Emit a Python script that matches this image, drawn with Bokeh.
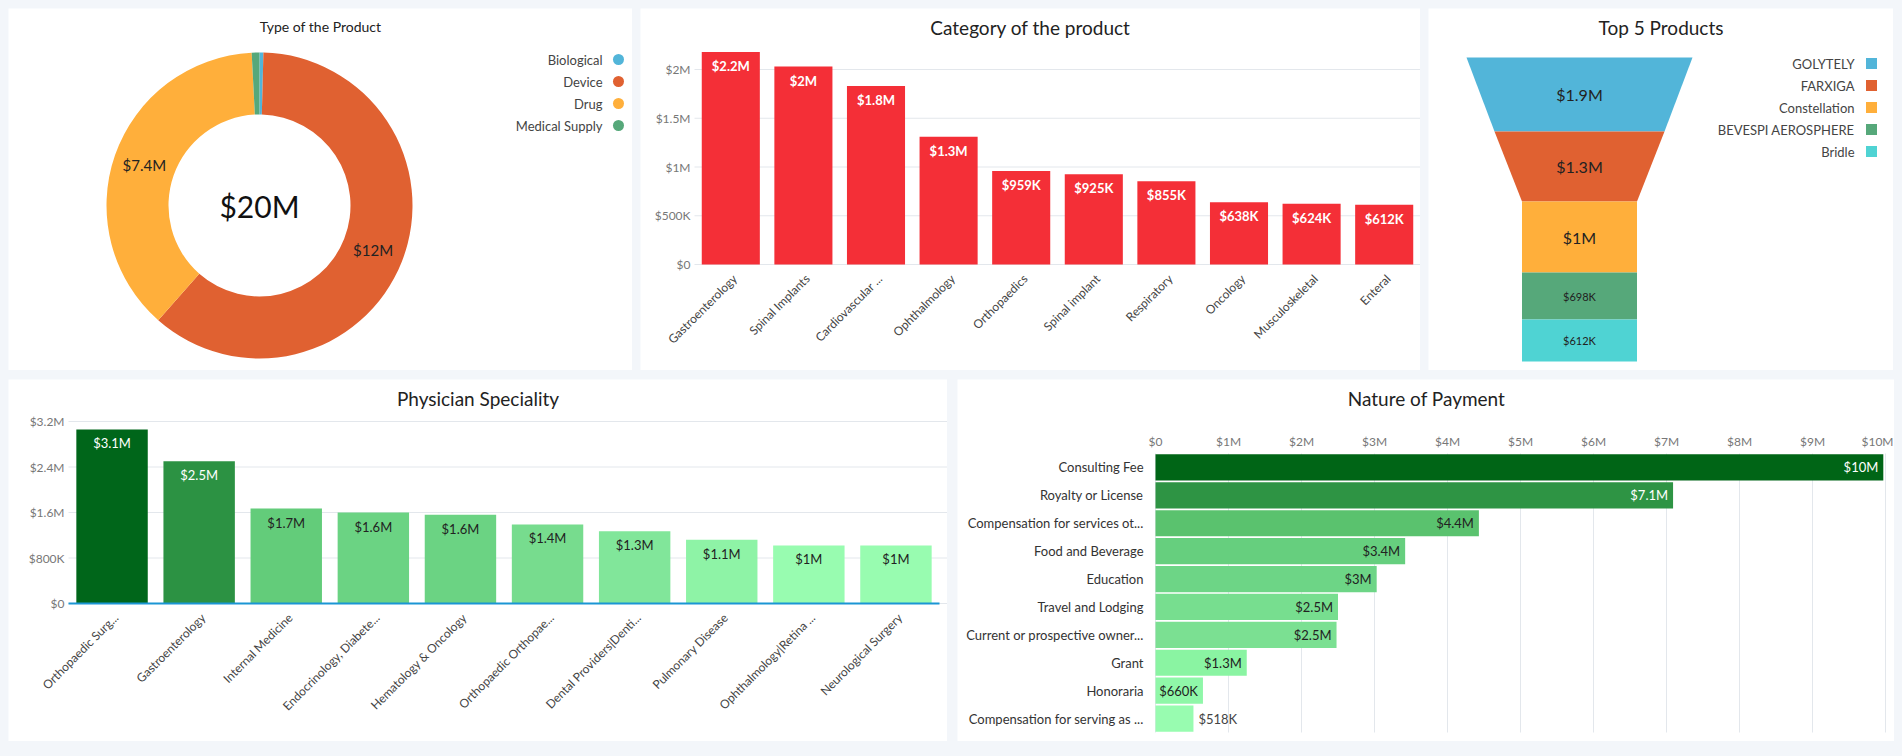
import math
from bokeh.plotting import figure
from bokeh.layouts import row, column
from bokeh.core.properties import value
from bokeh.embed import file_html
from bokeh.resources import INLINE

FONT = "Lato"
BG = "#f3f6fa"
GRID = "#e3e7ec"

# ---- data ----
type_names = ["Biological", "Device", "Drug", "Medical Supply"]
type_values = [0.08, 12.0, 7.4, 0.16]
type_labels = ["", "$12M", "$7.4M", ""]
type_colors = ["#52b5d9", "#e06131", "#ffaf3b", "#56a87a"]

cat_names = ["Gastroenterology", "Spinal Implants", "Cardiovascular ...", "Ophthalmology",
             "Orthopaedics", "Spinal implant", "Respiratory", "Oncology", "Musculoskeletal", "Enteral"]
cat_values = [2.18, 2.03, 1.83, 1.31, 0.959, 0.925, 0.855, 0.638, 0.624, 0.612]
cat_labels = ["$2.2M", "$2M", "$1.8M", "$1.3M", "$959K", "$925K", "$855K", "$638K", "$624K", "$612K"]
cat_ticks = [0, 0.5, 1, 1.5, 2]
cat_tick_labels = ["$0", "$500K", "$1M", "$1.5M", "$2M"]

top_names = ["GOLYTELY", "FARXIGA", "Constellation", "BEVESPI AEROSPHERE", "Bridle"]
top_labels = ["$1.9M", "$1.3M", "$1M", "$698K", "$612K"]
top_colors = ["#52b5d9", "#e06131", "#ffaf3b", "#56a87a", "#4fd3d3"]

spec_names = ["Orthopaedic Surg...", "Gastroenterology", "Internal Medicine", "Endocrinology, Diabete...",
              "Hematology & Oncology", "Orthopaedic Orthopae...", "Dental Providers|Denti...",
              "Pulmonary Disease", "Ophthalmology|Retina ...", "Neurological Surgery"]
spec_values = [3.06, 2.50, 1.67, 1.60, 1.56, 1.39, 1.27, 1.12, 1.02, 1.02]
spec_labels = ["$3.1M", "$2.5M", "$1.7M", "$1.6M", "$1.6M", "$1.4M", "$1.3M", "$1.1M", "$1M", "$1M"]
spec_colors = ["#00661a", "#2c9243", "#63cc7a", "#6bd383", "#6bd383", "#77dc8e",
               "#81e69a", "#8ef3a6", "#98fcb0", "#98fcb0"]
spec_ticks = [0, 0.8, 1.6, 2.4, 3.2]
spec_tick_labels = ["$0", "$800K", "$1.6M", "$2.4M", "$3.2M"]

pay_names = ["Consulting Fee", "Royalty or License", "Compensation for services ot...", "Food and Beverage",
             "Education", "Travel and Lodging", "Current or prospective owner...", "Grant", "Honoraria",
             "Compensation for serving as ..."]
pay_values = [9.97, 7.09, 4.43, 3.42, 3.03, 2.50, 2.48, 1.25, 0.65, 0.52]
pay_labels = ["$10M", "$7.1M", "$4.4M", "$3.4M", "$3M", "$2.5M", "$2.5M", "$1.3M", "$660K", "$518K"]
pay_colors = ["#006516", "#2e9444", "#5ac26e", "#66cf7e", "#6dd586", "#77de8f",
              "#7be092", "#8af4a2", "#8ff7a8", "#98fcb0"]
pay_ticks = list(range(11))
pay_tick_labels = ["$0"] + ["$%dM" % i for i in range(1, 11)]


def canvas(w, h, xr, yr):
    p = figure(width=w, height=h, x_range=xr, y_range=yr, output_backend="svg",
               toolbar_location=None, min_border=0)
    p.axis.visible = False
    p.grid.visible = False
    p.outline_line_color = None
    return p


def txt(p, x, y, t, size, color="#222", **kw):
    p.text(x=x, y=y, text=t, text_font=value(FONT), text_font_size=size, text_color=color, **kw)


def vbar_panel(w, h, names, vals, labels, colors, lab_colors, ticks, tick_labels,
               left, right, top_px, zero_px, title, bar_w, lab_style="normal"):
    n = len(names)
    k = (zero_px - top_px) / ticks[-1]
    P = (w - left - right) / n
    xr = (-0.5 - left / P, n - 0.5 + right / P)
    p = canvas(w, h, xr, (-(h - zero_px) / k, zero_px / k))
    p.segment(x0=-0.5, x1=n - 0.5 + right / P, y0=ticks, y1=ticks, line_color=GRID, line_width=1)
    idx = list(range(n))
    p.vbar(x=idx, top=vals, width=bar_w, color=colors, line_color=None)
    txt(p, idx, vals, labels, "13px", lab_colors, text_align="center", text_baseline="top",
        y_offset=6, text_font_style=lab_style)
    txt(p, [-0.5] * len(ticks), ticks, tick_labels, "12px", "#777", text_align="right",
        text_baseline="middle", x_offset=-4)
    txt(p, idx, [0] * n, names, "12px", "#444", text_align="right", text_baseline="middle",
        angle=math.pi / 4, y_offset=12, x_offset=4)
    txt(p, [(xr[0] + xr[1]) / 2], [(zero_px - 19) / k], [title], "19px", text_align="center",
        text_baseline="middle")
    return p


# ---- panel 1: donut ----
W1, H1 = 624, 362
p1 = canvas(W1, H1, (0, W1), (0, H1))
cx, cy = 251, H1 - 197
total = sum(type_values)
starts, ends, mids, cum = [], [], [], 0.0
for v in type_values:
    a0 = math.pi / 2 - cum / total * 2 * math.pi
    cum += v
    a1 = math.pi / 2 - cum / total * 2 * math.pi
    starts.append(a0); ends.append(a1); mids.append((a0 + a1) / 2)
p1.annular_wedge(x=cx, y=cy, inner_radius=91, outer_radius=153, start_angle=starts, end_angle=ends,
                 direction="clock", color=type_colors, line_color=None)
txt(p1, [cx + 122 * math.cos(m) for m in mids], [cy + 122 * math.sin(m) for m in mids],
    type_labels, "15px", text_align="center", text_baseline="middle")
txt(p1, [cx], [cy], ["$%dM" % round(total)], "30px", "#111", text_align="center", text_baseline="middle")
txt(p1, [W1 / 2], [H1 - 18], ["Type of the Product"], "14px", text_align="center", text_baseline="middle")
ly = [H1 - 51 - 22 * i for i in range(len(type_names))]
txt(p1, [594] * len(ly), ly, type_names, "13px", "#444", text_align="right", text_baseline="middle")
p1.scatter(x=[610] * len(ly), y=ly, size=11, color=type_colors, line_color=None)

# ---- panel 2: category bars ----
p2 = vbar_panel(780, 362, cat_names, cat_values, cat_labels, ["#f42f37"] * len(cat_names),
                "white", cat_ticks, cat_tick_labels, 54, 0, 61 - (256 - 61) * 0 , 256,
                "Category of the product", 0.8, "bold")

# ---- panel 3: funnel ----
W3, H3 = 465, 362
p3 = canvas(W3, H3, (0, W3), (0, H3))
fx = 151
seg_h = [74, 70, 71, 47, 42]
half_w = [113, 85, 57.5, 57.5, 57.5, 57.5]
ytop = H3 - 49
xs, ys, mid_y = [], [], []
for i in range(len(top_names)):
    y0, y1 = ytop, ytop - seg_h[i]
    xs.append([fx - half_w[i], fx + half_w[i], fx + half_w[i + 1], fx - half_w[i + 1]])
    ys.append([y0, y0, y1, y1])
    mid_y.append((y0 + y1) / 2)
    ytop = y1
p3.patches(xs=xs, ys=ys, color=top_colors, line_color=None)
txt(p3, [fx] * 3, mid_y[:3], top_labels[:3], "16px", text_align="center", text_baseline="middle")
txt(p3, [fx] * 2, mid_y[3:], top_labels[3:], "11px", text_align="center", text_baseline="middle")
txt(p3, [W3 / 2], [H3 - 19], ["Top 5 Products"], "19px", text_align="center", text_baseline="middle")
ly3 = [H3 - 55 - 22 * i for i in range(len(top_names))]
txt(p3, [426] * 5, ly3, top_names, "13px", "#444", text_align="right", text_baseline="middle")
p3.scatter(x=[443] * 5, y=ly3, marker="square", size=11, color=top_colors, line_color=None)

# ---- panel 4: physician speciality ----
p4 = vbar_panel(939, 362, spec_names, spec_values, spec_labels, spec_colors,
                ["white" if i < 2 else "#222" for i in range(len(spec_names))],
                spec_ticks, spec_tick_labels, 60, 8, 42, 224, "Physician Speciality", 0.82)
p4.segment(x0=-0.5, x1=len(spec_names) - 0.5, y0=0, y1=0, line_color="#1b96d4", line_width=2)

# ---- panel 5: nature of payment ----
W5, H5 = 938, 362
n5 = len(pay_names)
kx = 73.0
P5 = (353 - 74) / n5
p5 = canvas(W5, H5, (-198 / kx, (W5 - 198) / kx), (-0.5 - 9 / P5, n5 - 0.5 + 74 / P5))
p5.segment(x0=pay_ticks, x1=pay_ticks, y0=-0.5, y1=n5 - 0.5, line_color=GRID, line_width=1)
ypos = [n5 - 1 - i for i in range(n5)]
p5.hbar(y=ypos, right=pay_values, height=0.94, color=pay_colors, line_color=None)
inside = [v > 0.6 for v in pay_values]
txt(p5, pay_values, ypos, pay_labels, "13px",
    ["white" if i < 2 else ("#222" if inside[i] else "#444") for i in range(n5)],
    text_align=["right" if s else "left" for s in inside], x_offset=[-5 if s else 5 for s in inside],
    text_baseline="middle")
txt(p5, pay_ticks, [n5 - 0.5] * len(pay_ticks), pay_tick_labels, "12px", "#777",
    text_align=["center"] * (len(pay_ticks) - 1) + ["right"],
    x_offset=[0] * (len(pay_ticks) - 1) + [8], text_baseline="middle", y_offset=-12)
txt(p5, [0] * n5, ypos, pay_names, "13px", "#333", text_align="right", text_baseline="middle", x_offset=-12)
txt(p5, [(W5 / 2 - 198) / kx], [n5 - 0.5 + (74 - 19) / P5], ["Nature of Payment"], "19px",
    text_align="center", text_baseline="middle")

layout = column(row(p1, p2, p3, spacing=8),
                row(p4, p5, spacing=10),
                spacing=9, styles={"background-color": BG})
page = file_html(layout, INLINE).replace(
    "<body>", '<body style="background-color:%s;margin:8px;padding:0">' % BG)
open("out.html", "w").write(page)
